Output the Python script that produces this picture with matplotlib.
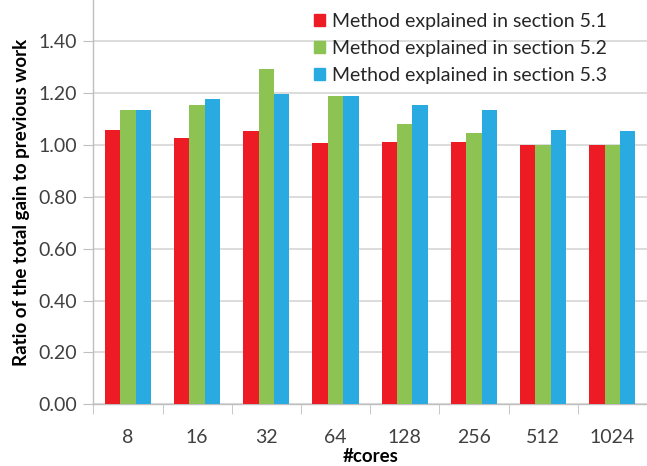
import numpy as np
import matplotlib.pyplot as plt
from matplotlib.patches import Patch

cores = ["8", "16", "32", "64", "128", "256", "512", "1024"]
sec51 = [1.059, 1.028, 1.053, 1.008, 1.013, 1.013, 1.000, 1.000]
sec52 = [1.136, 1.155, 1.294, 1.188, 1.082, 1.045, 1.000, 1.000]
sec53 = [1.136, 1.178, 1.195, 1.188, 1.155, 1.136, 1.058, 1.053]
labels = ["Method explained in section 5.1",
          "Method explained in section 5.2",
          "Method explained in section 5.3"]
colors = ["#ed1c24", "#8dc352", "#29abe2"]

plt.rcParams['font.family'] = ['Lato', 'DejaVu Sans']

fig = plt.figure(figsize=(6.47, 4.66), dpi=100)
ax = fig.add_axes([0.1442, 0.1324, 0.8558, 0.8676])

x = np.arange(len(cores))
w = 0.222
for i, vals in enumerate([sec51, sec52, sec53]):
    ax.bar(x + (i - 1) * w, vals, w, color=colors[i], zorder=3)

ax.set_xlim(-0.5, 7.41)
ax.set_ylim(0, 1.559)
ax.set_yticks(np.arange(0, 1.41, 0.2))
ax.set_yticklabels(["%.2f" % v for v in np.arange(0, 1.41, 0.2)], fontsize=14, color="#404040")
ax.yaxis.grid(True, color="#d9d9d9", linewidth=1.3, zorder=0)
ax.tick_params(axis="y", length=7, color="#bfbfbf", pad=5)

ax.set_xticks(x)
ax.set_xticklabels(cores, fontsize=14, color="#404040")
ax.set_xticks(np.arange(-0.5, 8, 1), minor=True)
ax.tick_params(axis="x", which="major", length=0, pad=18)
ax.tick_params(axis="x", which="minor", length=7, color="#bfbfbf")

for s in ["top", "right"]:
    ax.spines[s].set_visible(False)
for s in ["left", "bottom"]:
    ax.spines[s].set_color("#bfbfbf")
    ax.spines[s].set_linewidth(1.0)

ax.set_xlabel("#cores", fontsize=13.5, fontweight="bold", labelpad=1)
ax.set_ylabel("Ratio of the total gain to previous work", fontsize=13.5, fontweight="bold", labelpad=6)

handles = [Patch(color=c) for c in colors]
fig.legend(handles, labels, loc="upper left", bbox_to_anchor=(0.458, 1.01), frameon=False,
           fontsize=14, handlelength=0.6, handleheight=0.6, handletextpad=0.35,
           labelspacing=0.52, labelcolor="#262626")

fig.savefig("out.png", dpi=100)
